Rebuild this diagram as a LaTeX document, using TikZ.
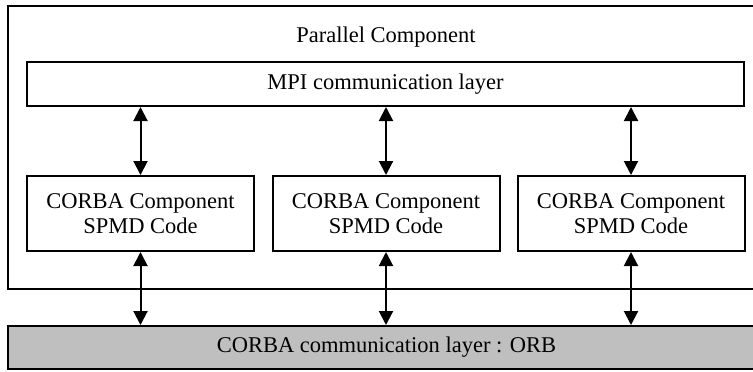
\documentclass[tikz,border=0pt]{standalone}
\usepackage{fontspec}
\setmainfont{Liberation Serif}
\usetikzlibrary{arrows.meta}
\begin{document}
\begin{tikzpicture}[x=.5pt,y=-.5pt,line width=1pt,
  >={Triangle[length=7pt,width=7pt]},
  font=\fontsize{11.25}{12.5}\selectfont,
  layer/.style={draw,inner sep=0pt,minimum height=22pt},
  spmd/.style={draw,align=center,inner sep=0pt,minimum width=113.5pt,minimum height=37.5pt}]
	\clip (0,0) rectangle (753,371);
	\draw (8,6) rectangle (765,289);
	\node (par) at (386,37) {Parallel Component};
	\node[layer,minimum width=358.5pt] (mpi) at (385.5,84) {MPI communication layer};
	\node[layer,fill=gray!50,minimum width=378.5pt,minimum height=21.5pt] (orb) at (386.5,347.5) {CORBA communication layer : ORB};
	\foreach \i/\x in {1/140.5,2/386,3/631} {
		\node[spmd] (c\i) at (\x,213.5) {CORBA Component\\SPMD Code};
		\draw[<->] (mpi.south -| c\i) -- (c\i.north);
		\draw[<->] (c\i.south) -- (orb.north -| c\i);
	}
\end{tikzpicture}
\end{document}
